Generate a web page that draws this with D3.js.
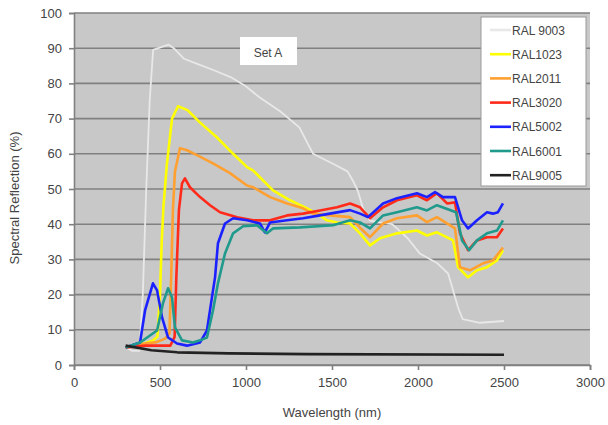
<!DOCTYPE html>
<html>
<head>
<meta charset="utf-8">
<script src="https://cdn.jsdelivr.net/npm/d3@7"></script>
<style>
  body { margin: 0; background: #fff; }
  text { font-family: "Liberation Sans", Arial, sans-serif; }
</style>
</head>
<body>
<div id="chart"></div>
<script>
// series names and colours (legend order)
var seriesNames = ["RAL 9003", "RAL1023", "RAL2011", "RAL3020", "RAL5002", "RAL6001", "RAL9005"];
var seriesColors = ["#e8e8e8", "#ffff00", "#ffa030", "#ff2a1a", "#1c22ff", "#1f9a8c", "#222222"];

// [wavelength nm, reflection %]
var ral9003 = [[300,5],[340,4],[380,4],[400,20],[420,50],[440,75],[460,89.5],[520,90.5],[550,91],[580,90],[640,87],[720,85.5],[810,83.8],[910,81.8],[990,79.5],[1080,76],[1200,72],[1310,67.5],[1390,60],[1500,57.3],[1590,55],[1620,52.5],[1650,49.5],[1680,44.5],[1720,41],[1780,40.5],[1850,40],[1940,36],[2010,31.7],[2110,29],[2175,26],[2205,21],[2235,16],[2260,13],[2360,12],[2500,12.5]];
var ral1023 = [[300,5],[400,6],[460,7],[485,8],[500,20],[510,35],[520,45],[540,57],[570,70],[605,73.5],[660,72.4],[730,69],[830,64.7],[925,60],[1006,56.2],[1040,55.3],[1157,49.6],[1256,46.8],[1355,44.5],[1413,43],[1470,41.1],[1530,40.5],[1605,40.2],[1663,37.4],[1721,34],[1779,36],[1878,37.4],[1994,38.2],[2052,36.8],[2110,37.7],[2204,35.4],[2233,27.8],[2291,24.9],[2343,26.9],[2401,27.8],[2459,29.7],[2494,32.6]];
var ral2011 = [[300,5],[400,6],[480,6.5],[530,7.5],[555,9],[565,25],[575,44],[587,55],[616,61.6],[657,61],[715,59.6],[808,57.3],[907,54.5],[1006,51],[1041,50.5],[1140,47.7],[1239,45.9],[1332,44.5],[1390,43],[1488,42.5],[1605,42],[1663,39],[1721,36.3],[1797,40.2],[1878,41.7],[1994,42.5],[2052,40.6],[2110,42],[2215,38.8],[2244,27.8],[2302,26.9],[2378,28.9],[2436,29.7],[2494,33.4]];
var ral3020 = [[300,5],[420,5.5],[560,5.5],[585,8],[595,25],[610,44],[628,51.6],[645,53],[674,50.5],[733,47.7],[791,45.4],[849,43.4],[948,42],[1041,41.1],[1140,41.1],[1239,42.5],[1332,43],[1430,43.9],[1529,44.8],[1605,45.9],[1663,44.8],[1721,41.7],[1797,44.8],[1878,46.8],[1994,48.2],[2052,46.8],[2110,48.8],[2169,45.9],[2215,46.2],[2244,37.4],[2291,32.6],[2343,35.4],[2401,36.3],[2459,36.3],[2494,38.8]];
var ral5002 = [[300,5],[384,6.4],[413,15.5],[459,23.2],[483,21.2],[512,13.5],[547,7.8],[599,6.1],[657,5.5],[733,6.4],[773,9.8],[802,19.2],[820,24.9],[837,34.6],[878,40.2],[925,41.7],[1006,41.1],[1081,40.2],[1110,37.7],[1140,40.5],[1239,41.1],[1332,41.7],[1430,42.5],[1488,43],[1605,44],[1663,43],[1709,42],[1797,45.9],[1878,47.4],[1994,48.8],[2052,47.7],[2099,49.1],[2145,47.7],[2215,47.7],[2256,41.1],[2291,38.8],[2343,41.1],[2401,43.4],[2436,43],[2465,43.4],[2494,45.9]];
var ral6001 = [[300,5],[384,6.4],[483,9.8],[517,17.5],[547,21.8],[570,19.2],[587,10.7],[628,7],[692,6.4],[733,7],[773,7.8],[808,15.5],[837,23.2],[860,28],[878,31.7],[925,37.4],[983,39.4],[1064,39.7],[1122,37.4],[1157,38.8],[1314,39.1],[1506,39.7],[1605,41.1],[1663,40.5],[1721,38.8],[1797,42.5],[1878,43.4],[1994,44.8],[2052,43.9],[2110,45.4],[2221,43.4],[2256,35.4],[2297,32.6],[2343,35.4],[2401,37.4],[2459,38.2],[2494,41.1]];
var ral9005 = [[300,5.5],[450,4.2],[600,3.6],[900,3.3],[1350,3.1],[2500,2.9]];

var seriesData = [ral9003, ral1023, ral2011, ral3020, ral5002, ral6001, ral9005];
var xTicks = [0, 500, 1000, 1500, 2000, 2500, 3000];
var yTicks = [0, 10, 20, 30, 40, 50, 60, 70, 80, 90, 100];

var margin = {top: 13, right: 18, bottom: 60, left: 74},
    width = 590 - margin.left,
    height = 365 - margin.top;

var x = d3.scaleLinear().domain([0, 3000]).range([0, width]);
var y = d3.scaleLinear().domain([0, 100]).range([height, 0]);

var svg = d3.select("#chart").append("svg")
    .attr("width", 608)
    .attr("height", 425)
  .append("g")
    .attr("transform", "translate(" + margin.left + "," + margin.top + ")");

// plot background
svg.append("rect")
    .attr("width", width)
    .attr("height", height)
    .attr("fill", "#c8c8c8");

// horizontal grid
svg.selectAll(".grid")
    .data(yTicks)
  .enter().append("line")
    .attr("x1", 0).attr("x2", width)
    .attr("y1", function(d) { return y(d); })
    .attr("y2", function(d) { return y(d); })
    .attr("stroke", "#808080")
    .attr("stroke-width", 1.6);

// axes
var xAxis = svg.append("g")
    .attr("transform", "translate(0," + height + ")")
    .call(d3.axisBottom(x).tickValues(xTicks).tickFormat(d3.format("d")).tickSize(5).tickPadding(8));
var yAxis = svg.append("g")
    .call(d3.axisLeft(y).tickValues(yTicks).tickFormat(d3.format("d")).tickSize(5).tickPadding(7));

[xAxis, yAxis].forEach(function(a) {
  a.select(".domain").attr("stroke", "#808080").attr("stroke-width", 1.6);
  a.selectAll(".tick line").attr("stroke", "#808080").attr("stroke-width", 1.6);
  a.selectAll(".tick text")
      .attr("fill", "#444")
      .style("font-size", "13px");
});

// lines
var line = d3.line()
    .x(function(d) { return x(d[0]); })
    .y(function(d) { return y(d[1]); });

seriesData.forEach(function(s, i) {
  svg.append("path")
      .datum(s)
      .attr("fill", "none")
      .attr("stroke", seriesColors[i])
      .attr("stroke-width", i === 0 ? 1.8 : 2.6)
      .attr("stroke-linejoin", "round")
      .attr("d", line);
});

// "Set A" box
svg.append("rect")
    .attr("x", 240 - margin.left).attr("y", 37 - margin.top)
    .attr("width", 57).attr("height", 28)
    .attr("fill", "#fff");
svg.append("text")
    .attr("x", 268 - margin.left).attr("y", 57 - margin.top)
    .attr("text-anchor", "middle")
    .attr("fill", "#444")
    .style("font-size", "12px")
    .text("Set A");

// legend
var lg = svg.append("g")
    .attr("transform", "translate(" + (481 - margin.left) + "," + (17 - margin.top) + ")");
lg.append("rect")
    .attr("width", 105).attr("height", 169)
    .attr("fill", "#fff")
    .attr("stroke", "#999")
    .attr("stroke-width", 1);
var item = lg.selectAll(".legend")
    .data(seriesNames)
  .enter().append("g")
    .attr("transform", function(d, i) { return "translate(0," + (13 + i * 24.2) + ")"; });
item.append("line")
    .attr("x1", 9).attr("x2", 30)
    .attr("stroke", function(d, i) { return seriesColors[i]; })
    .attr("stroke-width", 2.6);
item.append("text")
    .attr("x", 31).attr("y", 4.5)
    .attr("fill", "#444")
    .style("font-size", "12px")
    .text(function(d) { return d; });

// axis titles
svg.append("text")
    .attr("x", width / 2)
    .attr("y", height + 52)
    .attr("text-anchor", "middle")
    .attr("fill", "#444")
    .style("font-size", "13px")
    .text("Wavelength (nm)");
svg.append("text")
    .attr("transform", "translate(" + (19 - margin.left) + "," + (198 - margin.top) + ") rotate(-90)")
    .attr("text-anchor", "middle")
    .attr("fill", "#444")
    .style("font-size", "13px")
    .text("Spectral Reflection (%)");
</script>
</body>
</html>
